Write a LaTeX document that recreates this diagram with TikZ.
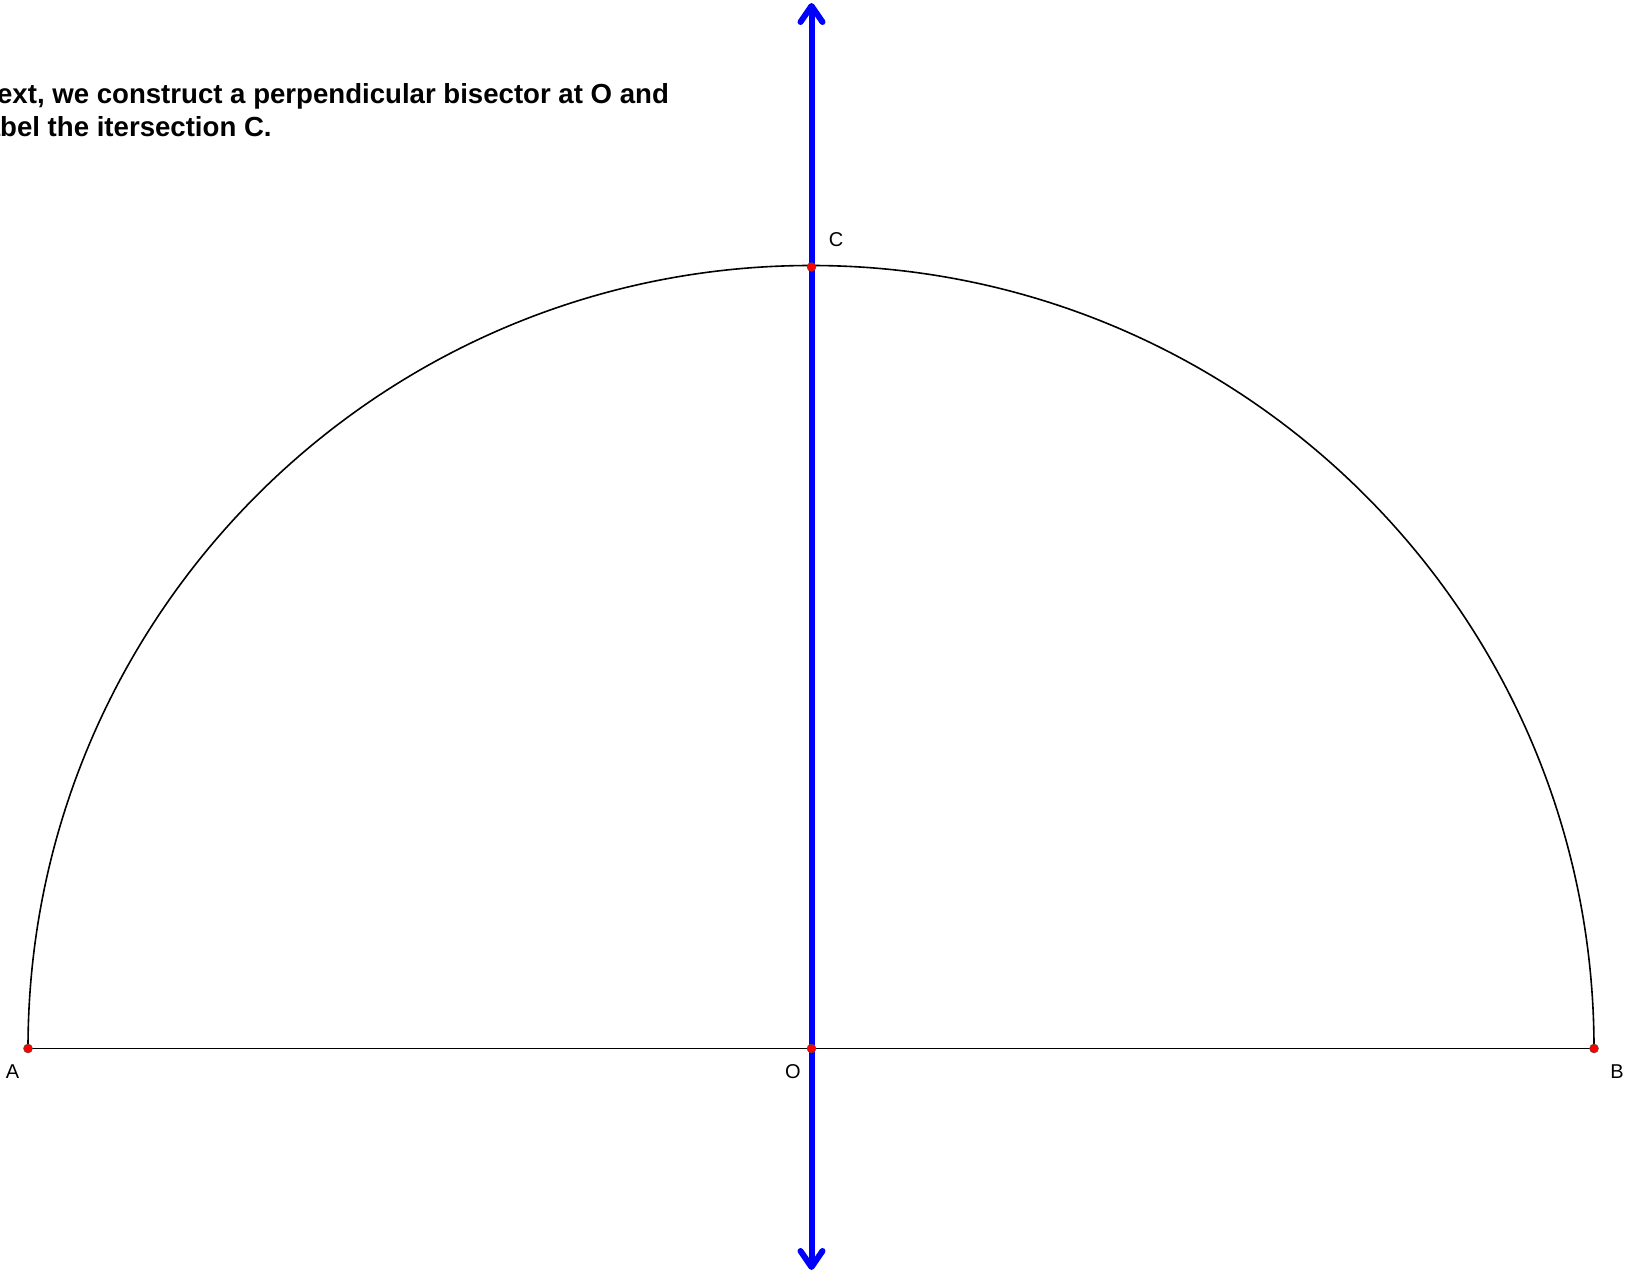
\documentclass[tikz,border=0pt]{standalone}
\usepackage{fontspec}
\setmainfont{Liberation Sans}
\usetikzlibrary{arrows.meta}
\begin{document}
\begin{tikzpicture}[x=1pt,y=-1pt,
  pt/.style={circle,fill=red,draw=black!70,line width=0.4pt,inner sep=0pt,minimum size=9pt},
  lbl/.style={font=\fontsize{20}{24}\selectfont,inner sep=0pt},
  seg/.style={line width=1.8pt,black},
  bis/.style={line width=6pt,blue,{Straight Barb[length=16pt,width=22pt,line cap=round,line join=round]}-{Straight Barb[length=16pt,width=22pt,line cap=round,line join=round]}}]
\useasboundingbox (0,0) rectangle (1627,1273);
\coordinate (A) at (28,1048.5);
\coordinate (O) at (811.5,1048.5);
\coordinate (B) at (1594,1048.5);
\coordinate (C) at (811.5,267);
\coordinate (top) at (811.5,3);
\coordinate (bot) at (811.5,1270);
\draw[line width=1.6pt] (B) arc[start angle=0,end angle=-180,radius=783];
\draw[seg] (A) -- (B);
\draw[bis] (bot) -- (top);
\node[pt] (pA) at (A) {};
\node[pt] (pO) at (O) {};
\node[pt] (pB) at (B) {};
\node[pt] (pC) at (C) {};
\node[lbl] (lA) at (12.5,1072) {A};
\node[lbl] (lO) at (793,1072) {O};
\node[lbl] (lB) at (1617,1072) {B};
\node[lbl] (lC) at (836,240) {C};
\node[anchor=base west,align=left,inner sep=0pt,font=\bfseries\fontsize{27.6}{33}\selectfont] (txt) at (-23,136.5) {Next, we construct a perpendicular bisector at O and\\label the itersection C.};
\end{tikzpicture}
\end{document}
